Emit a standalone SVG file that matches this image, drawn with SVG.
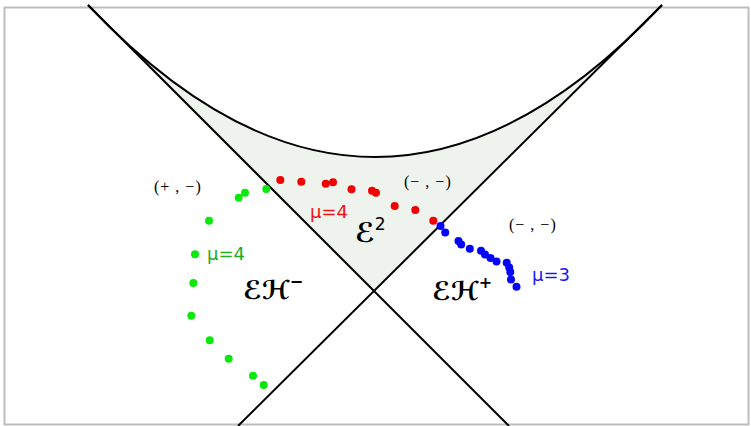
<svg xmlns="http://www.w3.org/2000/svg" width="751" height="426" viewBox="0 0 751 426">
<style>
.ln{fill:none;stroke:#000;stroke-width:2}
.g{fill:#0be80b}
.r{fill:#f00000}
.b{fill:#0505f5}
.sign{font-family:"Liberation Serif","DejaVu Serif",serif;font-size:16px;letter-spacing:1px;fill:#000}
.mu{font-family:"DejaVu Sans","Liberation Sans",sans-serif;font-size:18px}
.reg{font-family:"DejaVu Sans","Noto Sans",sans-serif;font-style:normal;font-weight:bold;fill:#000}
</style>
<rect x="4.5" y="7.5" width="744" height="417" fill="#fff" stroke="#bdbdbd" stroke-width="2"/>
<g id="region-E2">
<path d="M88,5 L374,290 L662,5 Q375,309 88,5 Z" fill="#eef3ed"/>
</g>
<g id="connectors">
<path class="ln" d="M88,5 L509,426"/>
<path class="ln" d="M662,5 L238,426"/>
<path class="ln" d="M88,5 Q375,309 662,5"/>
</g>
<g id="green-dots" class="g">
<circle cx="266.3" cy="189" r="4"/>
<circle cx="245" cy="192.7" r="4"/>
<circle cx="238.7" cy="197.7" r="4"/>
<circle cx="209" cy="220.7" r="4"/>
<circle cx="195" cy="254.3" r="4"/>
<circle cx="193.3" cy="283" r="4"/>
<circle cx="191.3" cy="315.7" r="4"/>
<circle cx="209.7" cy="340.3" r="4"/>
<circle cx="228.7" cy="358.7" r="4"/>
<circle cx="253" cy="375.7" r="4"/>
<circle cx="263.7" cy="385" r="4"/>
</g>
<g id="red-dots" class="r">
<circle cx="280.3" cy="180" r="4"/>
<circle cx="301.3" cy="181.7" r="4"/>
<circle cx="325.7" cy="183.7" r="4"/>
<circle cx="333" cy="182.3" r="4"/>
<circle cx="351.5" cy="189.2" r="4"/>
<circle cx="372" cy="190.7" r="4"/>
<circle cx="376" cy="192.7" r="4"/>
<circle cx="394.7" cy="206" r="4"/>
<circle cx="415.3" cy="210" r="4"/>
<circle cx="433.3" cy="220.7" r="4"/>
</g>
<g id="blue-dots" class="b">
<circle cx="440.5" cy="226" r="4"/>
<circle cx="445.2" cy="232.5" r="4"/>
<circle cx="458.5" cy="241" r="4"/>
<circle cx="461.2" cy="244.5" r="4"/>
<circle cx="469.8" cy="248.7" r="4"/>
<circle cx="481" cy="250.7" r="4"/>
<circle cx="485" cy="254.5" r="4"/>
<circle cx="490.5" cy="258" r="4"/>
<circle cx="496.5" cy="261.5" r="4"/>
<circle cx="506.7" cy="262.7" r="4"/>
<circle cx="509.2" cy="267.5" r="4"/>
<circle cx="510.3" cy="272" r="4"/>
<circle cx="511" cy="279.5" r="4"/>
<circle cx="516.5" cy="286.7" r="4"/>
</g>
<g id="labels">
<text class="sign" x="154" y="192">(+ , −)</text>
<text class="sign" x="404" y="187">(− , −)</text>
<text class="sign" x="509" y="230">(− , −)</text>
<text class="mu" x="207" y="260" fill="#22aa22">μ=4</text>
<text class="mu" x="310" y="218" fill="#ee1111">μ=4</text>
<text class="mu" x="532" y="281" fill="#1a1aee" font-size="23">μ=3</text>
</g>
<g id="E2"><text class="reg" x="355" y="242" font-size="27">ℰ<tspan font-size="17" font-weight="normal" dy="-12">2</tspan></text></g>
<g id="EH-minus"><text class="reg" x="243" y="299" font-size="26">ℰℋ<tspan font-size="16" dy="-12">−</tspan></text></g>
<g id="EH-plus"><text class="reg" x="432" y="300" font-size="26">ℰℋ<tspan font-size="16" dy="-12">+</tspan></text></g>
</svg>
